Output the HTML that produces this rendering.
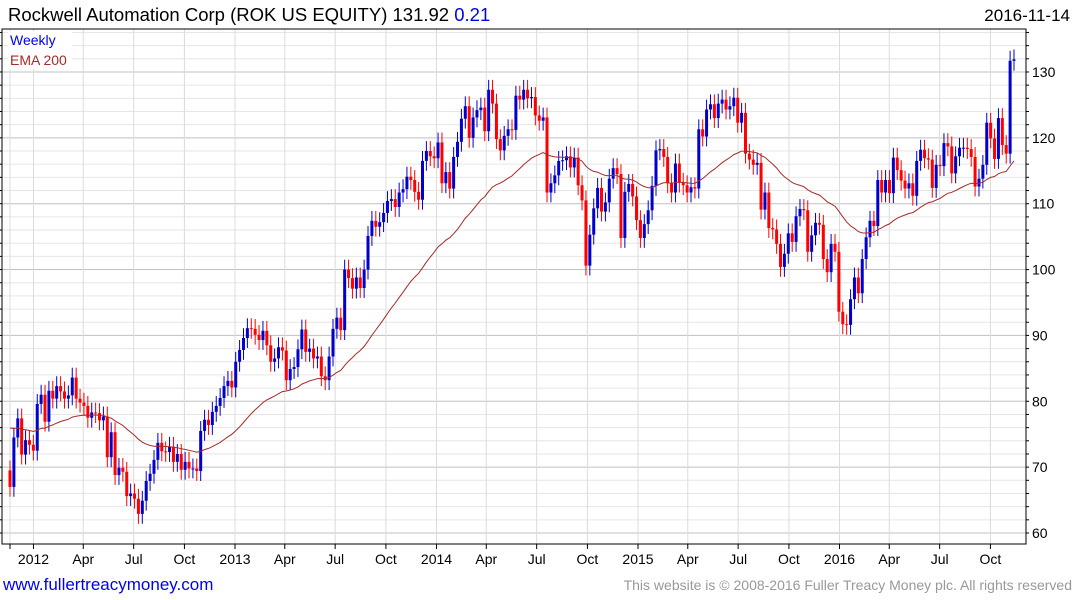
<!DOCTYPE html>
<html><head><meta charset="utf-8"><style>
body{margin:0;background:#fff;width:1075px;height:600px;overflow:hidden;font-family:"Liberation Sans","DejaVu Sans",sans-serif}
svg{display:block}
</style></head><body>
<svg id="chart" width="1075" height="600" xmlns="http://www.w3.org/2000/svg">
<text x="8" y="21" font-size="18.5" fill="#000">Rockwell Automation Corp (ROK US EQUITY) 131.92 <tspan fill="#0000ee">0.21</tspan></text>
<text x="1070" y="21" font-size="17" fill="#000" text-anchor="end">2016-11-14</text>
<g id="grid"></g>
<g id="marks"></g>
<path id="ema" fill="none" stroke="#a52a2a" stroke-width="1"/>
<g id="axes"></g>
<rect x="8" y="31" width="64" height="38" fill="#fff"/>
<text x="10" y="45" font-size="14" fill="#0000ee">Weekly</text>
<text x="10" y="65" font-size="14" fill="#a52a2a">EMA 200</text>
<text x="3" y="590" font-size="17" fill="#0000ee">www.fullertreacymoney.com</text>
<text x="1072" y="590" font-size="14" fill="#999" text-anchor="end">This website is © 2008-2016 Fuller Treacy Money plc. All rights reserved</text>
</svg>
<script>
const closes=[67.0,74.5,77.4,71.9,74.1,73.4,72.5,79.6,81.0,76.9,81.6,80.4,82.3,81.5,80.4,80.9,83.6,80.4,79.8,79.3,77.5,78.3,78.2,77.1,77.7,71.5,75.3,68.8,69.9,69.3,65.6,66.0,65.2,62.9,64.9,67.9,69.0,71.1,73.7,72.4,72.3,73.1,70.8,72.0,69.6,70.8,69.8,69.8,69.4,75.5,77.2,76.4,78.4,79.3,80.5,82.3,83.1,82.1,86.0,87.8,89.6,91.1,91.0,90.1,
89.3,90.7,88.5,86.0,86.5,88.2,87.7,83.2,84.9,85.2,87.9,90.9,87.5,88.0,86.5,86.8,83.8,83.2,86.8,91.0,92.7,90.8,100.0,98.7,97.1,98.8,97.2,100.0,105.1,107.4,106.5,107.2,108.6,110.4,110.7,109.5,111.7,112.2,114.1,113.6,111.8,110.6,116.5,118.0,117.2,116.9,119.3,113.1,114.8,112.3,117.1,119.4,
122.9,124.8,120.0,123.1,124.2,124.6,121.0,127.3,125.2,119.8,118.1,120.3,121.3,121.2,126.4,125.8,127.3,126.0,126.2,123.4,122.6,123.1,111.7,113.1,114.3,116.5,116.6,117.2,115.5,117.0,112.8,110.5,100.6,105.3,109.3,112.4,108.8,110.2,113.8,115.4,114.5,104.8,111.8,113.0,111.1,107.5,104.8,106.9,109.0,112.7,118.1,118.3,117.1,
113.1,111.7,116.1,113.2,112.8,111.7,112.5,112.3,121.3,120.2,124.3,125.1,123.0,125.2,125.8,124.3,124.8,126.1,122.3,123.8,117.6,116.7,115.9,116.2,109.1,111.7,106.3,106.1,103.9,100.4,102.4,105.5,104.2,108.1,109.2,109.0,102.7,105.2,107.1,106.8,101.6,99.6,103.9,102.7,93.6,91.7,91.6,95.5,98.8,96.4,101.6,104.9,
107.4,106.6,113.6,111.7,113.6,111.6,117.0,115.1,113.5,112.3,113.1,111.2,116.5,118.2,116.9,116.7,112.4,115.9,115.7,119.2,118.7,114.6,117.2,118.5,118.5,118.3,117.1,112.6,113.8,115.9,122.3,119.9,116.8,123.0,118.9,117.6,131.7,131.92];
const firstOpen=69.5;
const emaSeed=76.4;
const yTicks=[60,70,80,90,100,110,120,130];
const xLabels=["2012","Apr","Jul","Oct","2013","Apr","Jul","Oct","2014","Apr","Jul","Oct","2015","Apr","Jul","Oct","2016","Apr","Jul","Oct"];
const xLabelYears=[2012,2012.247,2012.497,2012.749,2013,2013.247,2013.497,2013.749,2014,2014.247,2014.497,2014.749,2015,2015.247,2015.497,2015.749,2016,2016.247,2016.497,2016.749];

const NS="http://www.w3.org/2000/svg";
const L=2,R=1026,T=29,B=544;
const y=v=>533-(v-60)*6.586;
const N=closes.length;
const xi=i=>10+i*(1014-10)/(N-1);
const xd=t=>33.5+(t-2012)*201.5;
function mk(tag,attrs,parent){const e=document.createElementNS(NS,tag);for(const k in attrs)e.setAttribute(k,attrs[k]);parent.appendChild(e);return e;}
const grid=document.getElementById('grid'),marks=document.getElementById('marks'),axes=document.getElementById('axes');
for(let v=58;v<=136;v+=2){const yy=y(v);if(yy<T||yy>B)continue;
 const ln=mk('line',{x1:L,x2:R,y1:yy,y2:yy,stroke:v%10===0?'#c0c0c0':'#e6e6e6','stroke-width':1},grid);
 
 
 const t1=mk('line',{x1:L-3,x2:L,y1:yy,y2:yy,stroke:'#000'},axes);
 
 
 const t2=mk('line',{x1:R,x2:R+3,y1:yy,y2:yy,stroke:'#000'},axes);
 
 }
const vx=[10].concat(xLabelYears.map(xd));
vx.forEach(xx=>{const g=mk('line',{x1:xx,x2:xx,y1:T,y2:B,stroke:'#dcdcdc'},grid);
 
 
 const t=mk('line',{x1:xx,x2:xx,y1:B,y2:B+5,stroke:'#000'},axes);
 
 });
xLabels.forEach((s,i)=>{const t=mk('text',{x:xd(xLabelYears[i]),y:564,'font-size':14,'text-anchor':'middle',fill:'#000'},axes);t.textContent=s;
 
 });
yTicks.forEach(v=>{const t=mk('text',{x:1032,y:y(v)+5,'font-size':14,fill:'#000'},axes);t.textContent=v;
 
 });
const fr=mk('path',{d:`M${L},${T}H${R}V${B}H${L}Z`,fill:'none',stroke:'#000','stroke-width':1},axes);


for(let i=0;i<N;i++){const o=i?closes[i-1]:firstOpen,c=closes[i];const up=c>=o;const col=up?'#0000cc':'#ff0000';
 const hi=Math.max(o,c)+1.5,lo=Math.min(o,c)-1.5;const xx=xi(i);
 const w=mk('line',{x1:xx,x2:xx,y1:y(hi),y2:y(lo),stroke:col,'stroke-width':1},marks);
 
 
 const top=y(Math.max(o,c)),h=Math.max(1,y(Math.min(o,c))-top);
 const b=mk('rect',{x:xx-1.5,y:top,width:3,height:h,fill:col},marks);
 
 }
let e=emaSeed,d='';const a=2/41;
for(let i=0;i<N;i++){e=e+a*(closes[i]-e);d+=(i?'L':'M')+xi(i).toFixed(1)+','+y(e).toFixed(1);}
document.getElementById('ema').setAttribute('d',d);
</script>
</body></html>
